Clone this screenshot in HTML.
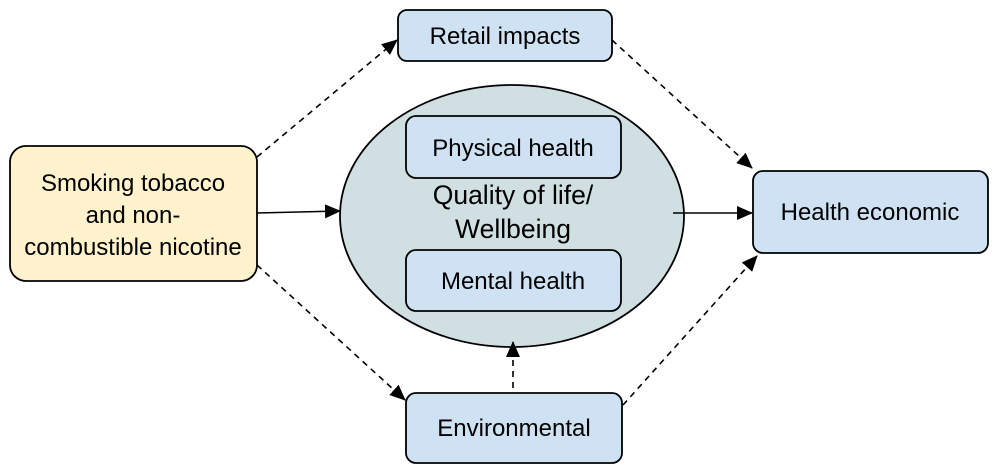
<!DOCTYPE html>
<html><head><meta charset="utf-8"><style>
html,body{margin:0;padding:0;background:#fff;}
svg{display:block;}
text{font-family:"Liberation Sans",Arial,sans-serif;font-size:24px;fill:#000;}
</style></head><body>
<svg width="1000" height="475" viewBox="0 0 1000 475" xmlns="http://www.w3.org/2000/svg">
<defs>
<marker id="a" markerWidth="16" markerHeight="14" refX="15" refY="7" orient="auto" markerUnits="userSpaceOnUse">
<path d="M0,0 L16,7 L0,14 z" fill="#000"/>
</marker>
</defs>
<g stroke="#000" stroke-width="1.8">
<rect x="10" y="146" width="247" height="135" rx="16" fill="#fff2cc"/>
<rect x="398" y="10" width="214" height="51" rx="9" fill="#cfe2f3"/>
<ellipse cx="512" cy="216" rx="172" ry="131" fill="#d0dfe2"/>
<rect x="406" y="116" width="215" height="62" rx="10" fill="#cfe2f3"/>
<rect x="406" y="250" width="215" height="61" rx="10" fill="#cfe2f3"/>
<rect x="753" y="171" width="235" height="82" rx="10" fill="#cfe2f3"/>
<rect x="406" y="393" width="216" height="70" rx="10" fill="#cfe2f3"/>
</g>
<g stroke="#000" stroke-width="1.6" fill="none">
<line x1="257" y1="213" x2="340" y2="211" marker-end="url(#a)"/>
<line x1="673" y1="213" x2="752" y2="213" marker-end="url(#a)"/>
<g stroke-dasharray="6,5">
<line x1="257" y1="157" x2="397" y2="40" marker-end="url(#a)"/>
<line x1="612" y1="40" x2="752" y2="168" marker-end="url(#a)"/>
<line x1="257" y1="265" x2="405" y2="400" marker-end="url(#a)"/>
<line x1="513" y1="388" x2="513" y2="342" marker-end="url(#a)"/>
<line x1="623" y1="405" x2="757" y2="256" marker-end="url(#a)"/>
</g>
</g>
<g text-anchor="middle">
<text x="133" y="191">Smoking tobacco</text>
<text x="133" y="223">and non-</text>
<text x="133" y="255">combustible nicotine</text>
<text x="505" y="44">Retail impacts</text>
<text x="513" y="156">Physical health</text>
<text x="513" y="204" style="font-size:26.5px">Quality of life/</text>
<text x="513" y="238" style="font-size:26.5px">Wellbeing</text>
<text x="513" y="289">Mental health</text>
<text x="870" y="220">Health economic</text>
<text x="514" y="436">Environmental</text>
</g>
</svg>
</body></html>
